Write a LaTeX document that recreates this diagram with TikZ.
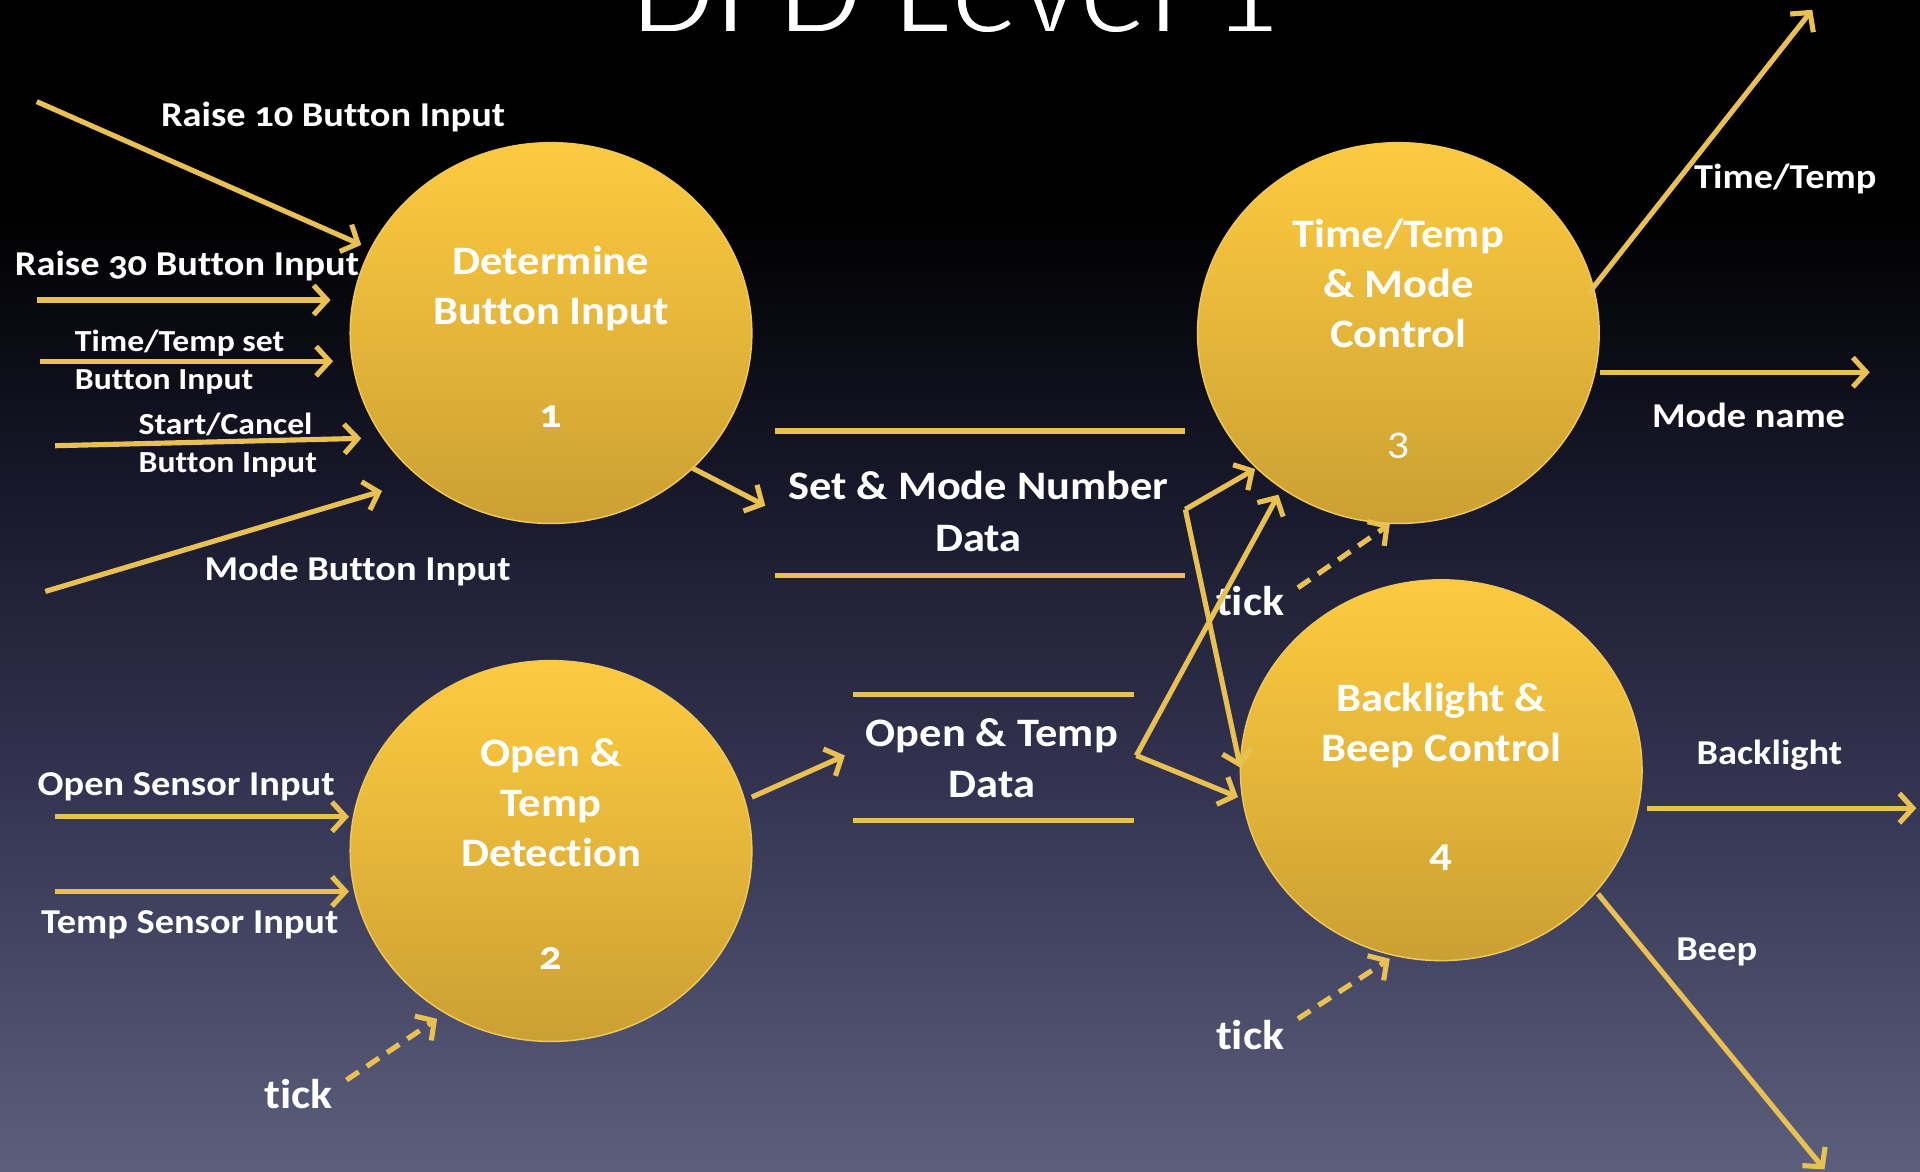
\documentclass[tikz,border=0pt]{standalone}
\usepackage{fontspec}
\setmainfont{Carlito}[Numbers=OldStyle,FakeStretch=1.1,Ligatures=NoCommon]
\newfontfamily\titlefont{Carlito}[Ligatures=NoCommon]
\usetikzlibrary{shapes.geometric,arrows.meta,calc}
\definecolor{arrowc}{RGB}{233,192,82}
\definecolor{bgB}{RGB}{92,95,124}
\definecolor{bgM}{RGB}{55,55,86}
\definecolor{bgD}{RGB}{22,22,40}
\definecolor{ctop}{RGB}{253,203,64}
\definecolor{cbot}{RGB}{203,160,51}
\definecolor{cedge}{RGB}{240,200,90}
\pgfdeclareverticalshading{bgshade}{100bp}{color(0bp)=(bgB); color(25bp)=(bgB); color(40bp)=(bgM); color(55bp)=(bgD); color(66bp)=(black); color(100bp)=(black)}
\newcommand{\thintext}[1]{\special{pdf:literal direct 2 Tr 3 w 0 0 0 RG}#1\special{pdf:literal direct 0 Tr}}
\begin{document}
\begin{tikzpicture}[x=1pt,y=-1pt,
 proc/.style={ellipse, minimum width=328pt, minimum height=311pt, inner sep=0pt, outer sep=0pt, draw=cedge, line width=1.2pt, top color=ctop, bottom color=cbot},
 ptext/.style={text=white, align=center, anchor=base, font=\fontsize{33}{41}\selectfont\bfseries, inner sep=0pt},
 pnum/.style={text=white, anchor=base, font=\fontsize{33}{36}\selectfont\bfseries, inner sep=0pt},
 lbl/.style={text=white, anchor=base, font=\fontsize{28.5}{32}\selectfont\bfseries, inner sep=0pt},
 slbl/.style={text=white, anchor=base west, font=\fontsize{25}{30}\selectfont\bfseries, inner sep=0pt},
 ticklbl/.style={text=white, anchor=base, font=\fontsize{34}{40}\selectfont\bfseries, inner sep=0pt},
 flow/.style={draw=arrowc, line width=4.2pt, -{Straight Barb[length=11pt,width=24pt]}},
 dflow/.style={flow, dash pattern=on 12pt off 8pt},
 store/.style={draw=arrowc, line width=4.2pt},
]
\useasboundingbox (0,0) rectangle (1568,957);
\clip (0,0) rectangle (1568,957);
\path[shading=bgshade] (0,0) rectangle (1568,957);

% title
\node[anchor=base, text=white, font=\fontsize{112}{120}\titlefont, inner sep=0pt] (title) at (780,27) {\thintext{DFD Level 1}};

% processes
\node[proc] (c1) at (450,272) {};
\node[proc] (c2) at (450,695) {};
\node[proc] (c3) at (1142,272) {};
\node[proc] (c4) at (1177,629) {};

% process texts (anchor = baseline of last line)
\node[ptext] (t1) at (450,265) {Determine\\Button Input};
\node[pnum] (n1) at (450,349) {1};
\node[ptext] (t2) at (450,708) {Open \&\\Temp\\Detection};
\node[pnum] (n2) at (450,792) {2};
\node[ptext] (t3) at (1142,284) {Time/Temp\\\& Mode\\Control};
\node[pnum, font=\fontsize{33}{36}\selectfont] (n3) at (1142,371) {3};
\node[ptext] (t4) at (1177,622) {Backlight \&\\Beep Control};
\node[pnum] (n4) at (1177,708) {4};

% data stores
\node[ptext, font=\fontsize{33}{42}\selectfont\bfseries] (ds1) at (799,450) {Set \& Mode Number\\Data};
\draw[store] ($(ds1.base)+(-166,-98)$) -- ($(ds1.base)+(169,-98)$);
\draw[store] ($(ds1.base)+(-166,20)$) -- ($(ds1.base)+(169,20)$);
\node[ptext, font=\fontsize{33}{41}\selectfont\bfseries] (ds2) at (810,651) {Open \& Temp\\Data};
\draw[store] ($(ds2.base)+(-113,-84)$) -- ($(ds2.base)+(116,-84)$);
\draw[store] ($(ds2.base)+(-113,19)$) -- ($(ds2.base)+(116,19)$);

% input labels
\node[lbl] (lr10) at (272,103) {Raise 10 Button Input};
\node[lbl, anchor=base west] (lr30) at (12,225) {Raise 30 Button Input};
\node[slbl] (ltt1) at (61,287) {Time/Temp set};
\node[slbl] (ltt2) at (61,318) {Button Input};
\node[slbl] (lsc1) at (113,355) {Start/Cancel};
\node[slbl] (lsc2) at (113,386) {Button Input};
\node[lbl] (lmode) at (292,474) {Mode Button Input};
\node[lbl] (los) at (152,650) {Open Sensor Input};
\node[lbl] (lts) at (155,762) {Temp Sensor Input};

% tick labels
\node[ticklbl] (tk2) at (244,905) {tick};
\node[ticklbl] (tk3) at (1021,503) {tick};
\node[ticklbl] (tk4) at (1021,857) {tick};

% output labels
\node[lbl] (ltime) at (1458,154) {Time/Temp};
\node[lbl] (lmn) at (1428,349) {Mode name};
\node[lbl] (lbk) at (1445,624) {Backlight};
\node[lbl] (lbp) at (1402,784) {Beep};

% free ends
\coordinate (r10) at (30,83);
\coordinate (r30) at (30,245);
\coordinate (tts) at (33,295);
\coordinate (sc) at (45,364);
\coordinate (md) at (37,483);
\coordinate (os) at (45,667);
\coordinate (ts) at (45,728);
\coordinate (k2) at (283,882);
\coordinate (k3) at (1060,480);
\coordinate (k4) at (1060,832);
\coordinate (otime) at (1480,8);
\coordinate (omode) at (1527,304);
\coordinate (oback) at (1565,660);
\coordinate (obeep) at (1490,955);

% inputs to process 1
\draw[flow] (r10) -- ($(c1)+(-155,-72)$);
\draw[flow] (r30) -- ($(c1)+(-180,-27)$);
\draw[flow] (tts) -- ($(c1)+(-178,23)$);
\draw[flow] (sc) -- ($(c1)+(-155,86)$);
\draw[flow] (md) -- ($(c1)+(-138,129)$);

% inputs to process 2
\draw[flow] (os) -- ($(c2)+(-165,-28)$);
\draw[flow] (ts) -- ($(c2)+(-165,33)$);

% process -> stores
\draw[flow] ($(c1)+(115,110)$) -- ($(ds1.base)+(-174,-37)$);
\draw[flow] ($(c2)+(164,-44)$) -- ($(ds2.base)+(-120,-34)$);

% stores -> processes
\coordinate (v1) at ($(ds1.base)+(169,-34)$);
\draw[flow] (v1) -- ($(c3)+(-117,111)$);
\draw[flow] (v1) -- ($(c4)+(-164,-2)$);
\coordinate (v2) at ($(ds2.base)+(118,-34)$);
\draw[flow] (v2) -- ($(c3)+(-98,132)$);
\draw[flow] (v2) -- ($(c4)+(-166,22)$);

% ticks
\draw[dflow] (k2) -- ($(c2)+(-93,137)$);
\draw[dflow] (k3) -- ($(c3)+(-7,156)$);
\draw[dflow] (k4) -- ($(c4)+(-42,154)$);

% outputs
\draw[flow] ($(c3)+(155,-32)$) -- (otime);
\draw[flow] ($(c3)+(165,32)$) -- (omode);
\draw[flow] ($(c4)+(168,31)$) -- (oback);
\draw[flow] ($(c4)+(128,101)$) -- (obeep);
\end{tikzpicture}
\end{document}
